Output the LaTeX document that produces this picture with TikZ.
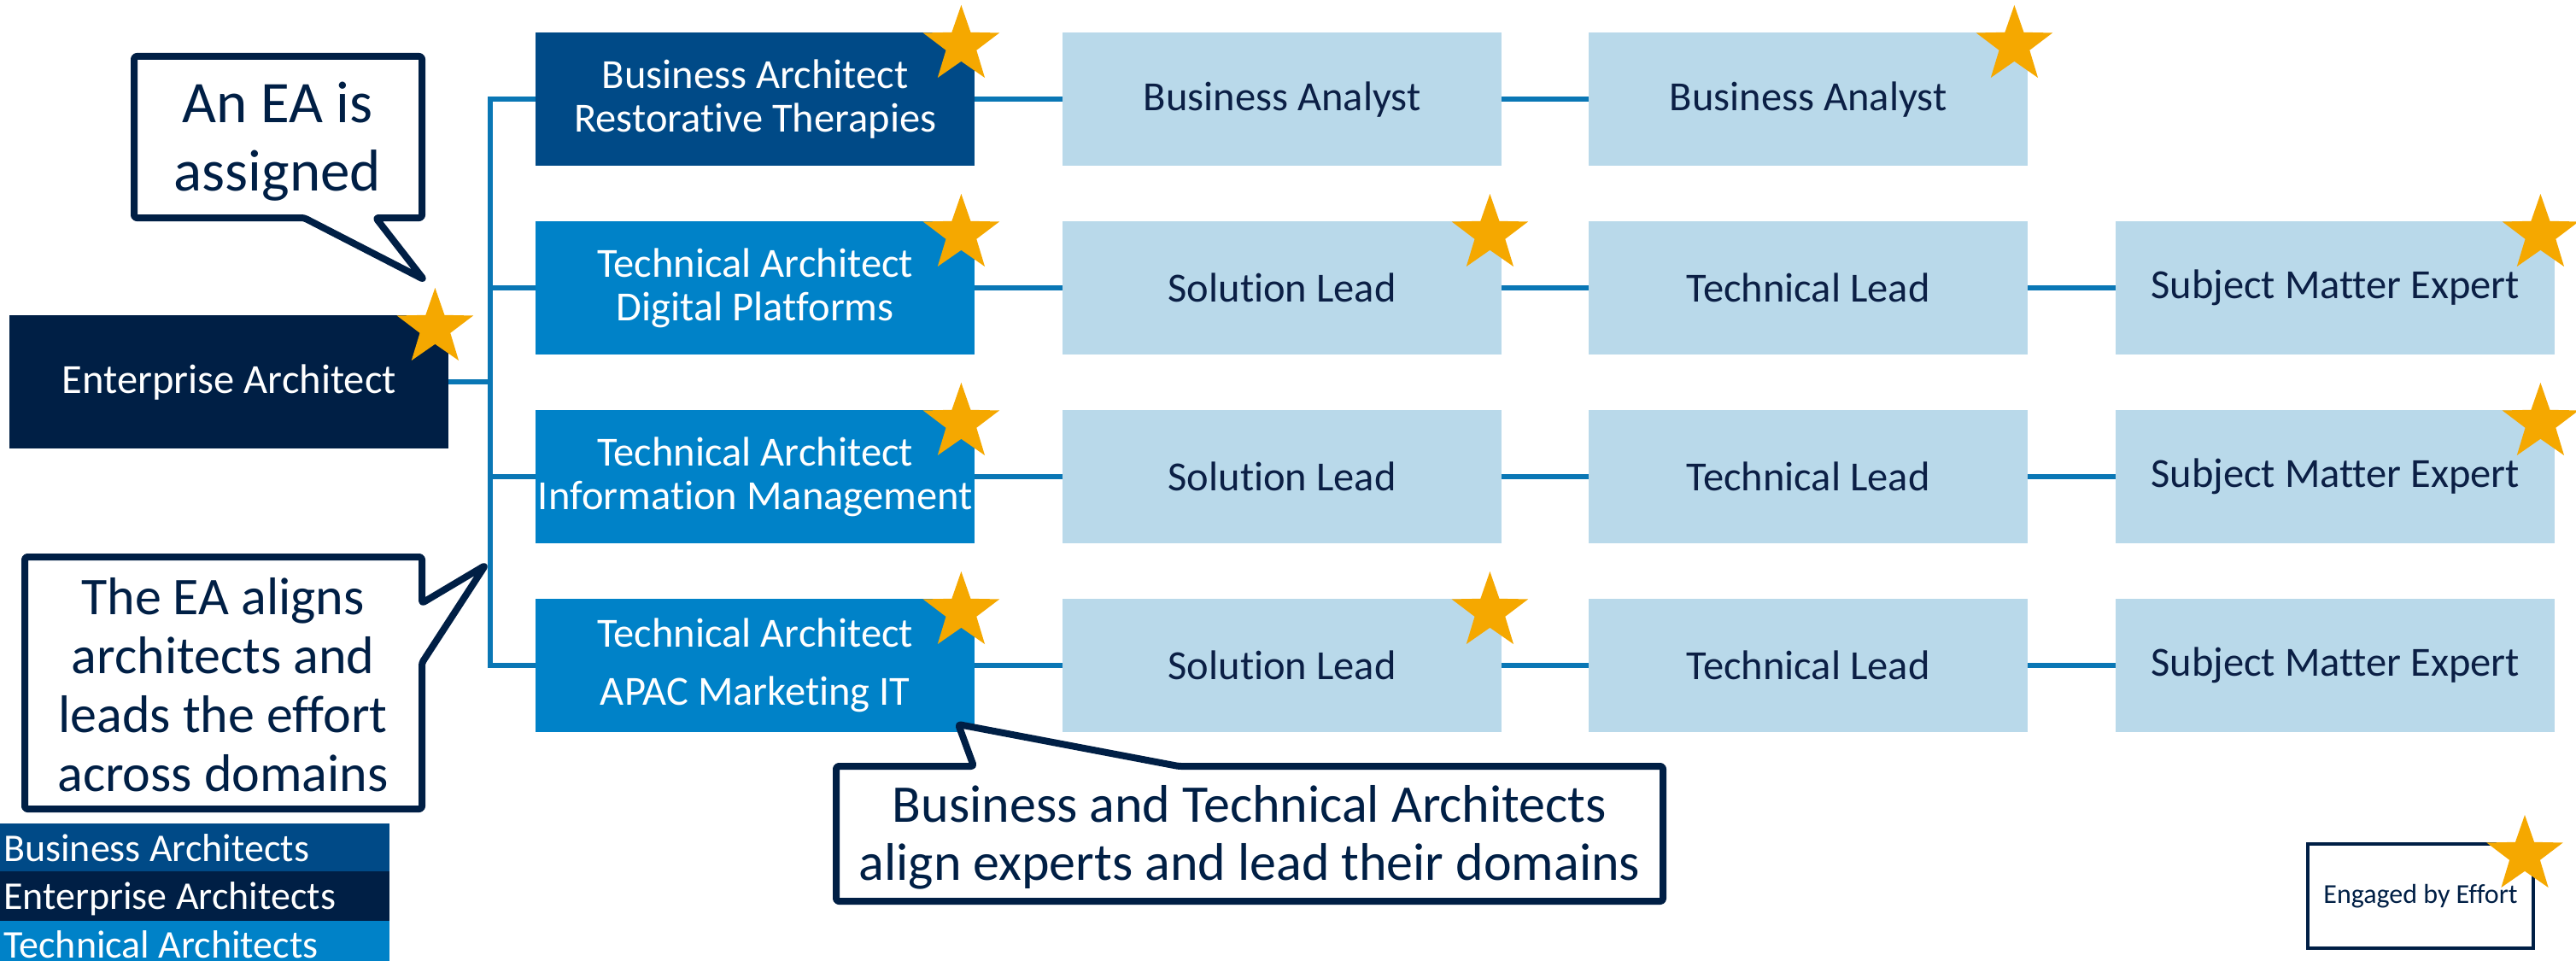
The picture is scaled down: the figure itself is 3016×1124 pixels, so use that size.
\documentclass[tikz,border=0pt]{standalone}
\usepackage{fontspec}
\setmainfont{Carlito}[Ligatures={NoCommon}]
\usetikzlibrary{shapes.geometric,calc}
\definecolor{eanavy}{HTML}{001F45}
\definecolor{babox}{HTML}{004A87}
\definecolor{tabox}{HTML}{0082C8}
\definecolor{lightbox}{HTML}{B9D9EA}
\definecolor{linkblue}{HTML}{0A77B5}
\definecolor{stargold}{HTML}{F5A800}
\definecolor{textnavy}{HTML}{0B1F45}
\begin{document}
\begin{tikzpicture}[x=1pt,y=-1pt,
  box/.style={anchor=north west, minimum width=514pt, minimum height=156pt, inner sep=0pt, align=center, font=\fontsize{48.5}{51}\selectfont},
  eabox/.style={box, fill=eanavy, text=white},
  babx/.style={box, fill=babox, text=white},
  tabx/.style={box, fill=tabox, text=white},
  lbox/.style={box, fill=lightbox, text=textnavy},
  link/.style={draw=linkblue, line width=5.5pt},
  mystar/.style={star, star points=5, star point ratio=2.5, minimum size=94pt, inner sep=0pt, fill=stargold},
  callout/.style={draw=eanavy, line width=8pt, fill=white, line join=round, rounded corners=3pt},
  ctext/.style={align=center, text=eanavy, inner sep=0pt},
  legbar/.style={anchor=north west, minimum width=456pt, inner sep=0pt},
  legtext/.style={anchor=base west, text=white, font=\fontsize{46}{50}\selectfont, inner sep=0pt}
]
\clip (0,0) rectangle (3016,1124);
\fill[white] (0,0) rectangle (3016,1124);

% main boxes
\node[eabox] (ea) at (11,369) {Enterprise Architect};
\node[babx] (r1a) at (627,38) {Business Architect\\Restorative Therapies};
\node[tabx] (r2a) at (627,259) {Technical Architect\\Digital Platforms};
\node[tabx] (r3a) at (627,480) {Technical Architect\\Information Management};
\node[tabx, font=\fontsize{48.5}{68}\selectfont] (r4a) at (627,701) {Technical Architect\\APAC Marketing IT};

\node[lbox] (r1b) at (1244,38) {Business Analyst};
\node[lbox] (r1c) at (1860,38) {Business Analyst};
\node[lbox] (r2b) at (1244,259) {Solution Lead};
\node[lbox] (r2c) at (1860,259) {Technical Lead};
\node[lbox] (r2d) at (2477,259) {Subject Matter Expert};
\node[lbox] (r3b) at (1244,480) {Solution Lead};
\node[lbox] (r3c) at (1860,480) {Technical Lead};
\node[lbox] (r3d) at (2477,480) {Subject Matter Expert};
\node[lbox] (r4b) at (1244,701) {Solution Lead};
\node[lbox] (r4c) at (1860,701) {Technical Lead};
\node[lbox] (r4d) at (2477,701) {Subject Matter Expert};

% connectors
\coordinate (bus) at (574,0);
\draw[link] (ea.east) -- (ea.east -| bus);
\draw[link] (r1a.west) -- (r1a.west -| bus) -- (r4a.west -| bus) -- (r4a.west);
\draw[link] (r2a.west -| bus) -- (r2a.west);
\draw[link] (r3a.west -| bus) -- (r3a.west);
\draw[link] (r1a.east) -- (r1b.west);
\draw[link] (r1b.east) -- (r1c.west);
\draw[link] (r2a.east) -- (r2b.west);
\draw[link] (r2b.east) -- (r2c.west);
\draw[link] (r2c.east) -- (r2d.west);
\draw[link] (r3a.east) -- (r3b.west);
\draw[link] (r3b.east) -- (r3c.west);
\draw[link] (r3c.east) -- (r3d.west);
\draw[link] (r4a.east) -- (r4b.west);
\draw[link] (r4b.east) -- (r4c.west);
\draw[link] (r4c.east) -- (r4d.west);

% stars
\node[mystar] (s0) at ($(ea.north east)+(-16,15)$) {};
\node[mystar] (s1) at ($(r1a.north east)+(-16,15)$) {};
\node[mystar] (s2) at ($(r2a.north east)+(-16,15)$) {};
\node[mystar] (s3) at ($(r3a.north east)+(-16,15)$) {};
\node[mystar] (s4) at ($(r4a.north east)+(-16,15)$) {};
\node[mystar] (s5) at ($(r1c.north east)+(-16,15)$) {};
\node[mystar] (s6) at ($(r2b.north east)+(-14,15)$) {};
\node[mystar] (s7) at ($(r2d.north east)+(-17,15)$) {};
\node[mystar] (s8) at ($(r3d.north east)+(-17,15)$) {};
\node[mystar] (s9) at ($(r4b.north east)+(-14,15)$) {};

% callouts
\draw[callout] (157,66) -- (494,66) -- (494,255) -- (440,255) -- (496,327) -- (356,255) -- (157,255) -- cycle;
\node[ctext, font=\fontsize{69}{80}\selectfont] (c1) at (325,166) {An EA is\\assigned};

\draw[callout] (29,652) -- (494,652) -- (494,706) -- (568,662) -- (494,776) -- (494,947) -- (29,947) -- cycle;
\node[ctext, font=\fontsize{62}{69}\selectfont] (c2) at (261,802) {The EA aligns\\architects and\\leads the effort\\across domains};

\draw[callout] (979,897) -- (1140,897) -- (1122,848) -- (1380,897) -- (1947,897) -- (1947,1055) -- (979,1055) -- cycle;
\node[ctext, font=\fontsize{62}{68}\selectfont] (c3) at (1463,980) {Business and Technical Architects\\align experts and lead their domains};

% legend
\node[legbar, fill=babox, minimum height=56pt] (lg1) at (0,964) {};
\node[legbar, fill=eanavy, minimum height=58pt] (lg2) at (0,1020) {};
\node[legbar, fill=tabox, minimum height=60pt] (lg3) at (0,1078) {};
\node[legtext] (lt1) at (4,1008) {Business Architects};
\node[legtext] (lt2) at (4,1064) {Enterprise Architects};
\node[legtext] (lt3) at (4,1121) {Technical Architects};

\node[draw=eanavy, line width=4pt, anchor=north west, minimum width=264pt, minimum height=122pt, inner sep=0pt, font=\fontsize{32}{36}\selectfont, text=eanavy] (eng) at (2700,986) {Engaged by Effort};
\node[mystar] (s10) at ($(eng.north east)+(-12,15)$) {};
\end{tikzpicture}
\end{document}
